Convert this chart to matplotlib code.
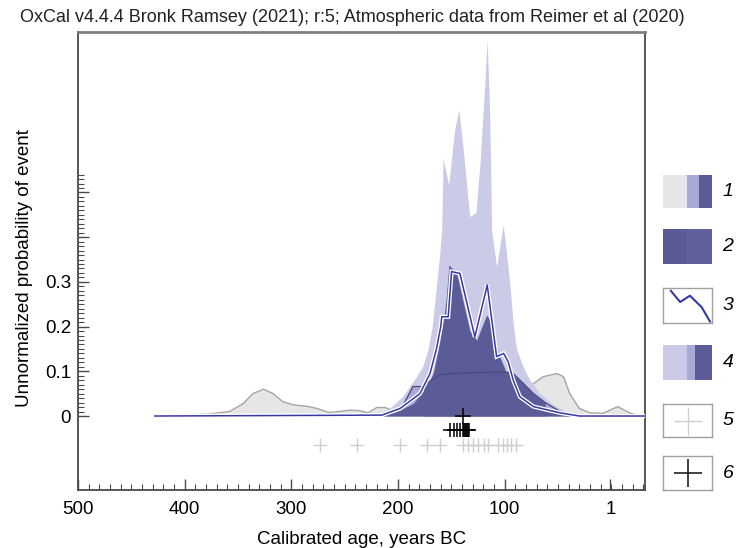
import numpy as np
import matplotlib.pyplot as plt

plt.rcParams['font.family'] = ['Liberation Sans', 'DejaVu Sans']

# curve 1: broad likelihood (grey)
grey_years = [428, 379, 358, 345, 336, 326, 317, 308, 298, 286, 276, 265, 255, 245,
              236, 228, 220, 212, 206, 198, 185, 170, 150, 120, 90, 75, 64, 51, 45,
              39, 30, 20, 8, -6, -17, -27]
grey_vals = [0, 0.004, 0.01, 0.028, 0.05, 0.06, 0.05, 0.032, 0.025, 0.022, 0.017, 0.008,
             0.01, 0.013, 0.012, 0.007, 0.019, 0.019, 0.013, 0.02, 0.04, 0.06, 0.07, 0.07,
             0.06, 0.069, 0.088, 0.095, 0.088, 0.05, 0.017, 0.007, 0.006, 0.021, 0.007, 0]

# curve 1: posterior (plateau)
plat_years = [220, 205, 195, 186, 176, 170, 161, 150, 130, 110, 98, 92, 82.6, 73, 62,
              48, 38, 30]
plat_vals = [0, 0.008, 0.025, 0.066, 0.066, 0.078, 0.092, 0.095, 0.097, 0.098, 0.098,
             0.095, 0.073, 0.05, 0.03, 0.01, 0.003, 0]
plat_range = (176, 62)

# curve 4: likelihood (tall, light lavender)
lav_years = [220, 208, 196, 185, 177, 172, 168, 164.5, 161, 159, 157.8, 152.5, 147, 143,
             139, 132.8, 127, 123.2, 118.5, 116.6, 114.5, 113.2, 112.3, 107.6, 101.5,
             99.5, 95, 92, 89, 82.6, 76.4, 67, 54.5, 42, 32, 25]
lav_vals = [0, 0.017, 0.043, 0.08, 0.11, 0.148, 0.2, 0.28, 0.36, 0.42, 0.577, 0.517, 0.64,
            0.685, 0.6, 0.446, 0.455, 0.565, 0.75, 0.843, 0.714, 0.565, 0.416, 0.334,
            0.427, 0.39, 0.29, 0.207, 0.15, 0.11, 0.08, 0.05, 0.025, 0.01, 0.004, 0]

# curve 2: dark distribution
dark_years = [217, 201, 185.7, 173, 167, 160.7, 157, 155, 152.3, 145, 132.6, 126.3, 117,
              114, 106, 98, 92, 82.6, 67, 48, 35]
dark_vals = [0, 0.01, 0.028, 0.066, 0.096, 0.17, 0.222, 0.26, 0.338, 0.319, 0.19, 0.17,
             0.226, 0.215, 0.14, 0.095, 0.058, 0.028, 0.013, 0.006, 0]

# curve 3: blue line
line_years = [428, 215, 198, 179.5, 170, 164, 160, 159, 153, 149.8, 142, 128, 116.4,
              107.6, 101, 96.7, 92, 85.8, 73, 48, 30, -31.5]
line_vals = [0, 0.002, 0.017, 0.05, 0.095, 0.15, 0.2, 0.222, 0.222, 0.323, 0.319, 0.177,
             0.293, 0.133, 0.14, 0.121, 0.08, 0.043, 0.021, 0.007, 0, 0]

# curve 5: individual dates (light grey crosses)
c5_years = [273, 238, 198, 173, 160.7, 139.2, 134.5, 129.8, 125.1, 119.5, 115.7, 106.4,
            101.7, 97.5, 93.8, 89.1]
# curve 6: modelled dates (black crosses)
c6_years = [151.4, 147.6, 144.5, 142, 139.5, 138.2, 137.3, 136.4, 135.4, 134.5, 133.6]
c6_top = 139

W, H = 741, 548
fig = plt.figure(figsize=(W / 100, H / 100), dpi=100)


def box(x0, y0, x1, y1):
    return [x0 / W, 1 - y1 / H, (x1 - x0) / W, (y1 - y0) / H]


ax = fig.add_axes(box(78, 32, 645, 490))
ax.set_xlim(500, -31.5)
ax.set_ylim(-0.1655, 0.859)

GREY_F, GREY_E = '#e6e6e6', '#a4a4a4'
LAV, MED, DARK = '#cbcbe7', '#a9a9d5', '#5b5b97'
BLUE = '#3737a8'

ax.fill_between(grey_years, grey_vals, color=GREY_F, lw=0, zorder=1)
ax.plot(grey_years, grey_vals, color=GREY_E, lw=1, zorder=1.5)
ax.fill_between(lav_years, lav_vals, color=LAV, lw=0, zorder=2)
py = np.array(plat_years)
ax.fill_between(plat_years, plat_vals, color=MED, lw=0, zorder=3)
ax.fill_between(plat_years, plat_vals, where=(py <= plat_range[0]) & (py >= plat_range[1]),
                color=DARK, lw=0, zorder=3.5)
ax.plot(plat_years, plat_vals, color='#8080b8', lw=0.8, zorder=3.6)
ax.fill_between(dark_years, dark_vals, color=DARK, lw=0, zorder=4)
ax.plot(plat_years, plat_vals, color='#48487e', lw=0.8, zorder=4.5)
ax.plot(line_years, line_vals, color='white', lw=3, zorder=5, solid_joinstyle='miter')
ax.plot(line_years, line_vals, color=BLUE, lw=1.1, zorder=6)

ax.plot(c5_years, [-0.065] * len(c5_years), ls='none', marker='+', ms=10, mew=1,
        color='#cfcfcf', zorder=6)
ax.plot(c6_years, [-0.031] * len(c6_years), ls='none', marker='+', ms=10, mew=1.1,
        color='black', zorder=7)
ax.plot([c6_top], [0.0], ls='none', marker='+', ms=12, mew=1.1, color='black', zorder=7)

# axes styling
for s in ['left', 'right', 'bottom']:
    ax.spines[s].set_color('#4a4a4a')
    ax.spines[s].set_linewidth(1.3)
ax.spines['top'].set_color('#808080')
ax.spines['top'].set_linewidth(2)

ax.set_xticks([500, 400, 300, 200, 100, 1])
ax.set_xticklabels(['500', '400', '300', '200', '100', '1'])
ax.set_xticks(np.arange(490, -31, -10), minor=True)
ax.set_yticks([0, 0.1, 0.2, 0.3, 0.4, 0.5])
ax.set_yticklabels(['0', '0.1', '0.2', '0.3', '', ''])
ax.set_yticks(np.arange(0.01, 0.545, 0.01), minor=True)
ax.tick_params(axis='both', which='major', direction='in', length=8, width=1,
               color='#4a4a4a', labelsize=13.5, pad=8)
ax.tick_params(axis='both', which='minor', direction='in', length=4, width=0.8,
               color='#4a4a4a')
ax.tick_params(axis='y', pad=5)
ax.set_xlabel('Calibrated age, years BC', fontsize=13.5, labelpad=9)
ax.set_ylabel('Unnormalized probability of event', fontsize=13.5)
ax.yaxis.set_label_coords(-0.08, 0.485)

fig.text(20 / W, 1 - 18 / H, 'OxCal v4.4.4 Bronk Ramsey (2021); r:5; Atmospheric data from Reimer et al (2020)',
         fontsize=13, ha='left', va='center', color='#222222')

# legend boxes
rows = [(175, 208), (229, 264), (288, 323), (345, 380), (404, 437), (456, 490)]
for i, (y0, y1) in enumerate(rows):
    lax = fig.add_axes(box(663, y0, 712, y1))
    lax.set_xlim(0, 1)
    lax.set_ylim(0, 1)
    lax.set_xticks([])
    lax.set_yticks([])
    for s in lax.spines.values():
        s.set_color('#a0a0a0')
        s.set_linewidth(1)
    if i == 0:
        lax.axvspan(0, 0.49, color=GREY_F, lw=0)
        lax.axvspan(0.49, 0.73, color=MED, lw=0)
        lax.axvspan(0.73, 1, color=DARK, lw=0)
        for s in lax.spines.values():
            s.set_visible(False)
    elif i == 1:
        lax.axvspan(0, 0.48, color='#5a5a96', lw=0)
        lax.axvspan(0.48, 1, color='#60609a', lw=0)
        for s in lax.spines.values():
            s.set_visible(False)
    elif i == 2:
        lax.plot([0.16, 0.35, 0.55, 0.79, 0.96], [0.92, 0.6, 0.78, 0.45, 0.04],
                 color=BLUE, lw=1.5)
    elif i == 3:
        lax.axvspan(0, 0.49, color=LAV, lw=0)
        lax.axvspan(0.49, 0.65, color=MED, lw=0)
        lax.axvspan(0.65, 1, color=DARK, lw=0)
        for s in lax.spines.values():
            s.set_visible(False)
    elif i == 4:
        lax.plot([0.5], [0.5], marker='+', ms=20, mew=1, color='#cfcfcf')
    else:
        lax.plot([0.5], [0.5], marker='+', ms=20, mew=1.2, color='#222222')
    fig.text(728 / W, 1 - (y0 + y1) / 2 / H, str(i + 1), fontsize=14, style='italic',
             ha='center', va='center')

fig.savefig('out.png', dpi=100)
